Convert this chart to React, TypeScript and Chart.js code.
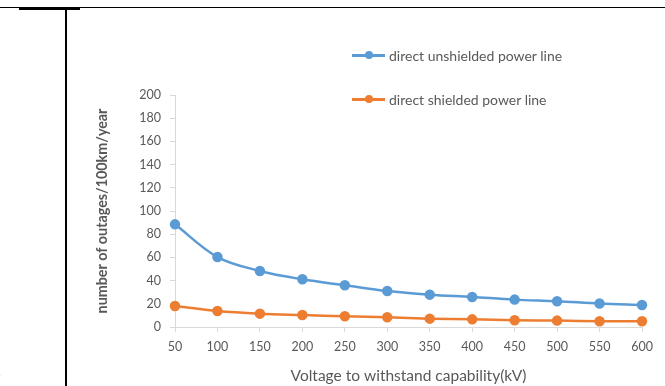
import React, { useEffect, useRef } from "react";
import { Chart, registerables } from "chart.js";

Chart.register(...registerables);

const voltages = ["50", "100", "150", "200", "250", "300", "350", "400", "450", "500", "550", "600"];
const unshielded = [88.5, 60.3, 48.3, 41.1, 36, 31, 27.9, 25.9, 23.6, 22.2, 20.2, 19];
const shielded = [18.1, 13.8, 11.5, 10.3, 9.2, 8.4, 7.2, 6.6, 5.8, 5.5, 4.9, 4.9];
const seriesNames = ["direct unshielded power line", "direct shielded power line"];
const xTitle = "Voltage to withstand capability(kV)";
const yTitle = "number of outages/100km/year";

const BLUE = "#5B9BD5";
const ORANGE = "#ED7D31";
const TEXT = "#595959";
const AXIS = "#d9d9d9";
const FONT = "Lato, 'Open Sans', sans-serif";

export default function App() {
  const ref = useRef<HTMLCanvasElement | null>(null);

  useEffect(() => {
    if (!ref.current) return;
    const chart = new Chart(ref.current, {
      type: "line",
      data: {
        labels: voltages,
        datasets: [
          {
            label: seriesNames[0],
            data: unshielded,
            borderColor: BLUE,
            backgroundColor: BLUE,
            pointBackgroundColor: BLUE,
            pointBorderColor: BLUE,
            pointRadius: 4,
            borderWidth: 2.5,
            tension: 0.35,
          },
          {
            label: seriesNames[1],
            data: shielded,
            borderColor: ORANGE,
            backgroundColor: ORANGE,
            pointBackgroundColor: ORANGE,
            pointBorderColor: ORANGE,
            pointRadius: 4,
            borderWidth: 2.5,
            tension: 0.35,
          },
        ],
      },
      options: {
        animation: false,
        responsive: false,
        maintainAspectRatio: false,
        layout: { padding: { left: 92, top: 95, right: 23, bottom: 0 } },
        plugins: { legend: { display: false }, tooltip: { enabled: false } },
        scales: {
          x: {
            type: "category",
            offset: false,
            grid: { display: true, drawOnChartArea: false, drawTicks: true, tickLength: 5, color: AXIS, offset: false },
            border: { display: true, color: AXIS, width: 1 },
            ticks: { color: TEXT, font: { family: FONT, size: 12.5 }, padding: 7, maxRotation: 0, autoSkip: false },
            title: {
              display: true,
              text: xTitle,
              color: TEXT,
              font: { family: FONT, size: 15.5 },
              padding: { top: 0, bottom: 1 },
            },
            afterFit: (s: any) => {
              s.height = 59;
            },
          },
          y: {
            min: 0,
            max: 200,
            grid: { display: true, drawOnChartArea: false, drawTicks: true, tickLength: 5, color: AXIS },
            border: { display: true, color: AXIS, width: 1 },
            ticks: { stepSize: 20, color: TEXT, font: { family: FONT, size: 12.5 }, padding: 9 },
            title: {
              display: true,
              text: yTitle,
              color: TEXT,
              font: { family: FONT, size: 14.3, weight: "bold" },
              padding: { top: 2, bottom: 2 },
            },
            afterFit: (s: any) => {
              s.width = 83;
            },
          },
        },
      },
    });
    return () => chart.destroy();
  }, []);

  const legendItem = (color: string, text: string, top: number) => (
    <div style={{ position: "absolute", left: 352, top: top - 9, height: 18, display: "flex", alignItems: "center" }}>
      <div style={{ position: "relative", width: 33, height: 16 }}>
        <div style={{ position: "absolute", left: 0, top: 7, width: 33, height: 2.5, background: color }} />
        <div
          style={{
            position: "absolute",
            left: 13,
            top: 4,
            width: 8,
            height: 8,
            borderRadius: "50%",
            background: color,
          }}
        />
      </div>
      <span style={{ marginLeft: 4, fontFamily: FONT, fontSize: 14, color: TEXT, whiteSpace: "nowrap" }}>{text}</span>
    </div>
  );

  return (
    <div style={{ position: "absolute", left: 0, top: 0, width: 665, height: 386, overflow: "hidden", background: "#fff" }}>
      <canvas ref={ref} width={665} height={386} style={{ position: "absolute", left: 0, top: 0 }} />
      <div style={{ position: "absolute", left: 0, top: 7, width: 665, height: 1, background: "#000" }} />
      <div style={{ position: "absolute", left: 19, top: 7, width: 61, height: 3, background: "#000" }} />
      <div style={{ position: "absolute", left: 65, top: 8, width: 2, height: 378, background: "#000" }} />
      <span style={{ position: "absolute", left: -3, top: 366, fontFamily: FONT, fontSize: 14, color: TEXT }}>)</span>
      {legendItem(BLUE, seriesNames[0], 55)}
      {legendItem(ORANGE, seriesNames[1], 99)}
    </div>
  );
}
